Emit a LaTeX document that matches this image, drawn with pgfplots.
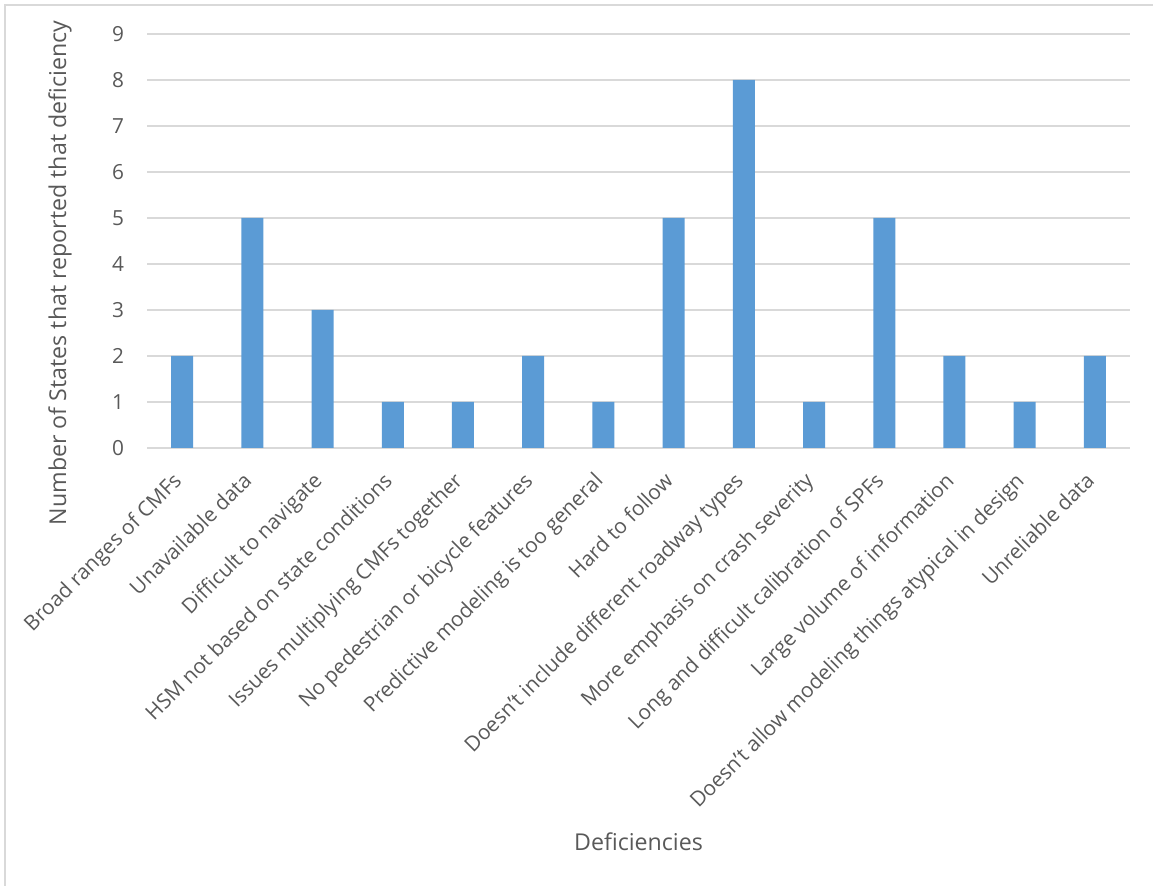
\documentclass[border=0pt]{standalone}
\usepackage{pgfplots}
\pgfplotsset{compat=1.18}
\usepackage{fontspec}
\setmainfont{Open Sans}[Ligatures=ResetAll]
\definecolor{barblue}{HTML}{5B9BD5}
\definecolor{txtgray}{HTML}{595959}
\definecolor{gridgray}{HTML}{D9D9D9}
\begin{document}
\begin{tikzpicture}
\useasboundingbox (0pt,0pt) rectangle (576.5pt,-443pt);
\draw[gridgray,line width=0.75pt] (2.5pt,-443pt) -- (2.5pt,-2.5pt) -- (576.5pt,-2.5pt);
\begin{axis}[
  at={(73.5pt,-17pt)}, anchor=north west,
  scale only axis, width=491.5pt, height=207pt,
  xmin=-0.5, xmax=13.5, ymin=0, ymax=9,
  ytick={0,...,9}, xtick=data,
  xticklabels={Broad ranges of CMFs,Unavailable data,Difficult to navigate,HSM not based on state conditions,Issues multiplying CMFs together,No pedestrian or bicycle features,Predictive modeling is too general,Hard to follow,Doesn't include different roadway types,More emphasis on crash severity,Long and difficult calibration of SPFs,Large volume of information,Doesn't allow modeling things atypical in design,Unreliable data},
  axis line style={draw=none},
  axis x line*=bottom, axis y line*=left,
  major tick length=0pt,
  ymajorgrids, grid style={gridgray,line width=0.75pt},
  font=\fontsize{10.4}{12}\selectfont,
  tick label style={txtgray,font=\fontsize{10.4}{12}\selectfont},
  /pgf/number format/assume math mode=true,
  yticklabel style={xshift=-8pt},
  xticklabel style={rotate=45,anchor=north east,inner sep=1pt,xshift=-10.7pt,yshift=-3.2pt},
  ylabel={Number of States that reported that deficiency},
  xlabel={Deficiencies},
  every axis y label/.style={at={(axis description cs:-0.0885,0.4227)},rotate=90,anchor=center,txtgray},
  every axis x label/.style={at={(axis description cs:0.5,-0.952)},anchor=center,txtgray},
  label style={font=\fontsize{11.6}{13}\selectfont},
  clip=false,
]
\draw[gridgray,line width=0.75pt] (rel axis cs:0,0) -- (rel axis cs:1,0);
\addplot[ybar,bar width=11pt,fill=barblue,draw=none] coordinates {
(0,2) (1,5) (2,3) (3,1) (4,1) (5,2) (6,1) (7,5) (8,8) (9,1) (10,5) (11,2) (12,1) (13,2)};
\end{axis}
\end{tikzpicture}
\end{document}
